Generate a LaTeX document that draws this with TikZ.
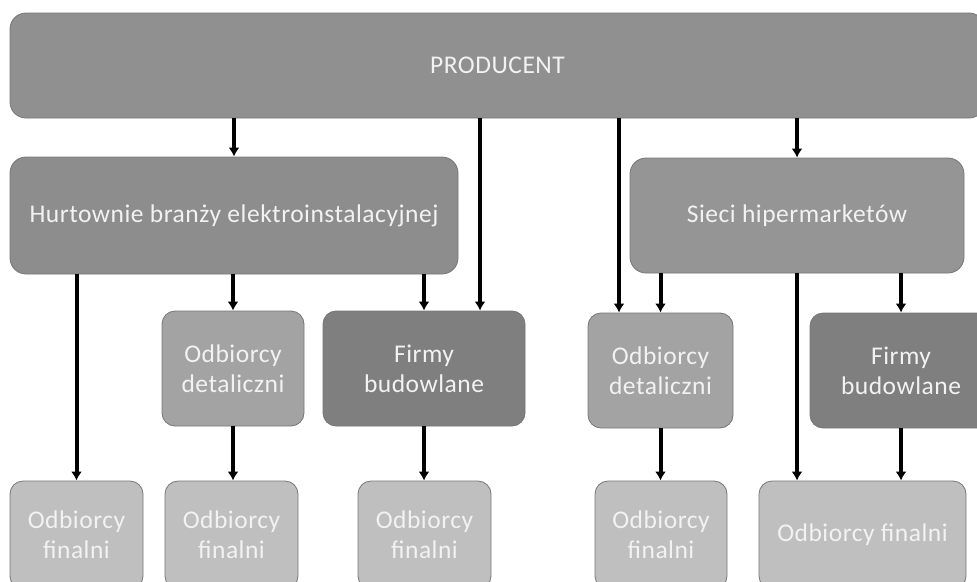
\documentclass[tikz,border=0pt]{standalone}
\usepackage{fontspec}
\setmainfont[LetterSpace=2]{Carlito}
\usetikzlibrary{arrows.meta,calc}
\definecolor{cprod}{HTML}{909090}
\definecolor{churt}{HTML}{8D8D8D}
\definecolor{csieci}{HTML}{959595}
\definecolor{cdet}{HTML}{A3A3A3}
\definecolor{cfirm}{HTML}{7F7F7F}
\definecolor{cfin}{HTML}{BFBFBF}
\definecolor{cedge}{HTML}{767676}
\definecolor{ctext}{HTML}{F2F2F2}
\tikzset{
  box/.style={draw=cedge, line width=0.8pt, rounded corners=16pt, text=ctext,
    font=\fontsize{25.5}{30}\selectfont, align=center, inner sep=0pt},
  prodbox/.style={box, fill=cprod},
  hurtbox/.style={box, fill=churt},
  siecibox/.style={box, fill=csieci},
  detbox/.style={box, fill=cdet, rounded corners=13pt},
  firmbox/.style={box, fill=cfirm, rounded corners=13pt},
  finbox/.style={box, fill=cfin, rounded corners=13pt},
  arr/.style={line width=4pt, -{Latex[length=9pt,width=11pt]}},
}
\begin{document}
\begin{tikzpicture}[x=1pt,y=-1pt]
\useasboundingbox (0,0) rectangle (977,581);
\clip (0,0) rectangle (977,581);
\node[prodbox, minimum width=975pt, minimum height=105pt] (prod) at (497.5,65.5) {PRODUCENT};
\node[hurtbox, minimum width=448pt, minimum height=117pt] (hurt) at (234,215.5) {Hurtownie branży elektroinstalacyjnej};
\node[siecibox, minimum width=334pt, minimum height=115pt] (sieci) at (797,215.5) {Sieci hipermarketów};
\node[detbox, minimum width=142pt, minimum height=115pt] (detL) at (233,368.5) {Odbiorcy\\detaliczni};
\node[firmbox, minimum width=202pt, minimum height=115pt] (firmL) at (424,368.5) {Firmy\\budowlane};
\node[detbox, minimum width=145pt, minimum height=115pt] (detR) at (660.5,370.5) {Odbiorcy\\detaliczni};
\node[firmbox, minimum width=182pt, minimum height=115pt] (firmR) at (901,370.5) {Firmy\\budowlane};
\node[finbox, minimum width=133pt, minimum height=108pt] (fin1) at (76.5,535) {Odbiorcy\\finalni};
\node[finbox, minimum width=133pt, minimum height=108pt] (fin2) at (231.5,535) {Odbiorcy\\finalni};
\node[finbox, minimum width=133pt, minimum height=108pt] (fin3) at (424.5,535) {Odbiorcy\\finalni};
\node[finbox, minimum width=132pt, minimum height=108pt] (fin4) at (661,535) {Odbiorcy\\finalni};
\node[finbox, minimum width=207pt, minimum height=108pt] (fin5) at (862.5,535) {Odbiorcy finalni};
% from producent
\draw[arr] (prod.south -| hurt.north) -- (hurt.north);
\draw[arr] (prod.south -| sieci.north) -- (sieci.north);
\draw[arr] ([xshift=56pt]prod.south -| firmL.north) -- ([xshift=56pt]firmL.north);
\draw[arr] ([xshift=-41.5pt]prod.south -| detR.north) -- ([xshift=-41.5pt]detR.north);
% from hurtownie
\draw[arr] (hurt.south -| fin1.north) -- (fin1.north);
\draw[arr] (hurt.south -| detL.north) -- (detL.north);
\draw[arr] (hurt.south -| firmL.north) -- (firmL.north);
% from sieci
\draw[arr] (sieci.south -| detR.north) -- (detR.north);
\draw[arr] (sieci.south) -- (sieci.south |- fin5.north);
\draw[arr] (sieci.south -| firmR.north) -- (firmR.north);
% second level
\draw[arr] (detL.south) -- (detL.south |- fin2.north);
\draw[arr] (firmL.south) -- (firmL.south |- fin3.north);
\draw[arr] (detR.south) -- (detR.south |- fin4.north);
\draw[arr] (firmR.south) -- (firmR.south |- fin5.north);
\end{tikzpicture}
\end{document}
